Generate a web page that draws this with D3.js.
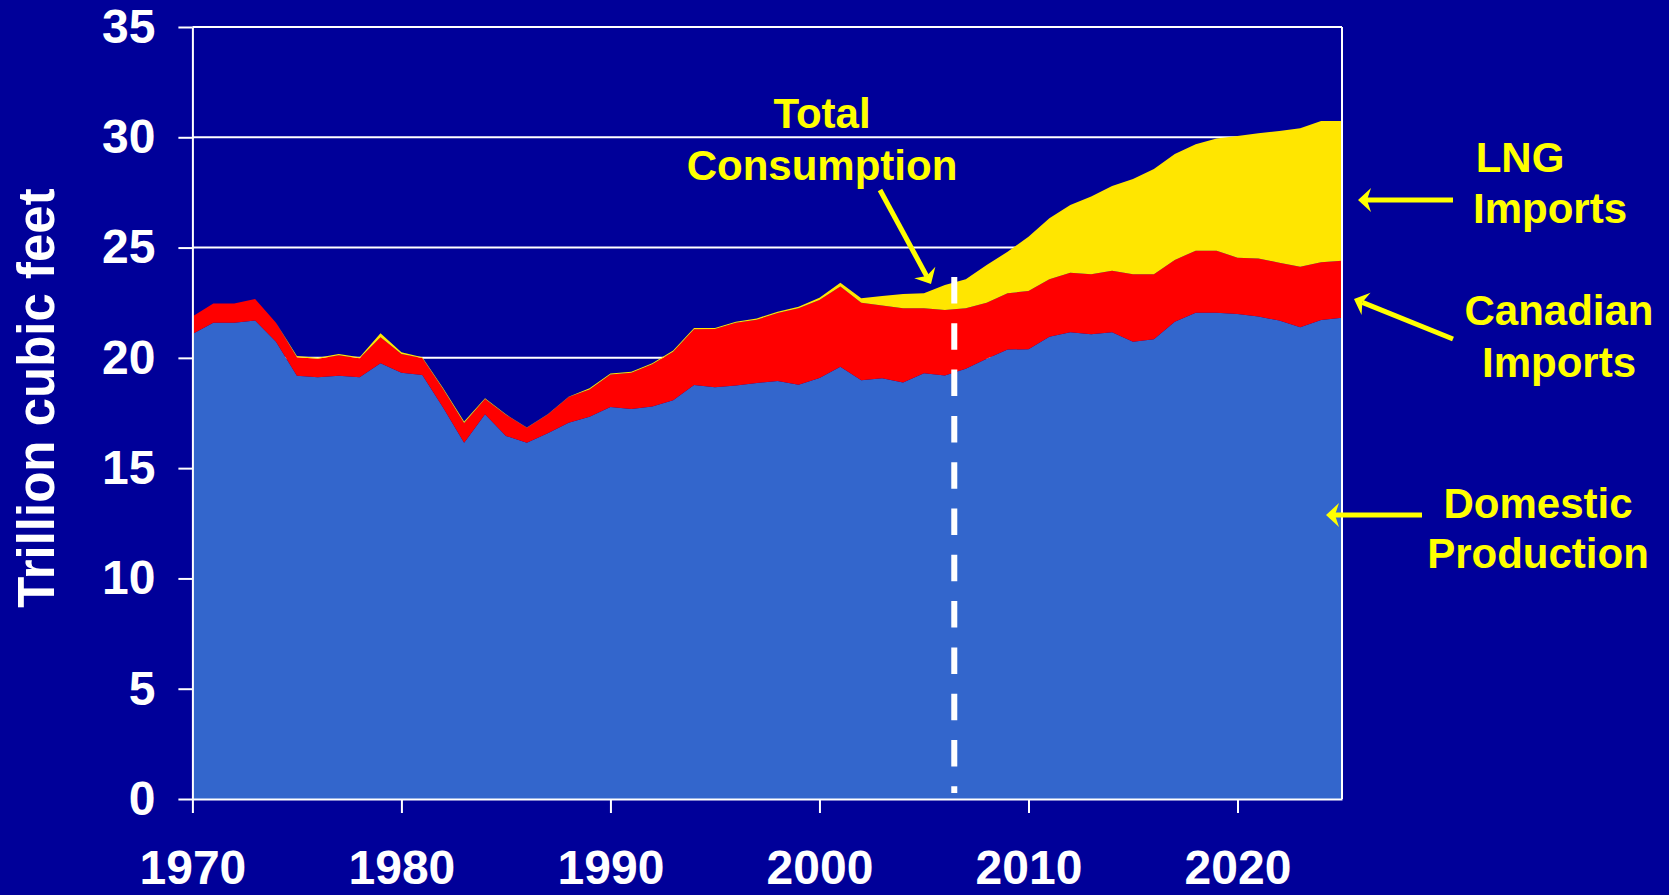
<!DOCTYPE html>
<html>
<head>
<meta charset="utf-8">
<script src="https://cdn.jsdelivr.net/npm/d3@7/dist/d3.min.js"></script>
<style>
    html, body { margin: 0; padding: 0; background: #000099; }
    svg { display: block; }
    text { font-family: "Liberation Sans", Arial, sans-serif; font-weight: bold; }
</style>
</head>
<body>
<div id="chart"></div>
<script>
// == Daten (Trillion cubic feet) ==
const YEARS = [
    1970, 1971, 1972, 1973, 1974, 1975, 1976, 1977, 1978, 1979,
    1980, 1981, 1982, 1983, 1984, 1985, 1986, 1987, 1988, 1989,
    1990, 1991, 1992, 1993, 1994, 1995, 1996, 1997, 1998, 1999,
    2000, 2001, 2002, 2003, 2004, 2005, 2006, 2007, 2008, 2009,
    2010, 2011, 2012, 2013, 2014, 2015, 2016, 2017, 2018, 2019,
    2020, 2021, 2022, 2023, 2024, 2025
];
const DOMESTIC = [
    21.08, 21.59, 21.59, 21.69, 20.73, 19.19, 19.12, 19.19, 19.12, 19.75,
    19.33, 19.22, 17.74, 16.15, 17.44, 16.46, 16.15, 16.58, 17.06, 17.33,
    17.77, 17.68, 17.79, 18.08, 18.77, 18.67, 18.75, 18.86, 18.95, 18.78,
    19.09, 19.60, 18.98, 19.08, 18.88, 19.30, 19.20, 19.51, 19.96, 20.38,
    20.39, 20.96, 21.16, 21.07, 21.16, 20.73, 20.84, 21.64, 22.05, 22.05,
    21.99, 21.87, 21.69, 21.39, 21.72, 21.82
];
const CANADIAN = [
    0.79, 0.88, 0.88, 0.98, 0.86, 0.84, 0.84, 0.93, 0.86, 1.18,
    0.84, 0.77, 0.84, 0.90, 0.70, 0.96, 0.68, 0.85, 1.16, 1.24,
    1.47, 1.64, 1.92, 2.20, 2.53, 2.64, 2.84, 2.87, 3.08, 3.47,
    3.53, 3.63, 3.52, 3.29, 3.37, 2.95, 2.97, 2.74, 2.54, 2.55,
    2.64, 2.60, 2.70, 2.72, 2.79, 3.06, 2.95, 2.80, 2.81, 2.81,
    2.55, 2.64, 2.62, 2.74, 2.61, 2.58
];
const LNG = [
    0.00, 0.00, 0.00, 0.00, 0.00, 0.05, 0.05, 0.05, 0.05, 0.18,
    0.08, 0.04, 0.04, 0.06, 0.03, 0.02, 0.01, 0.01, 0.02, 0.05,
    0.05, 0.05, 0.04, 0.05, 0.05, 0.04, 0.05, 0.06, 0.06, 0.07,
    0.10, 0.18, 0.20, 0.43, 0.65, 0.68, 1.13, 1.31, 1.71, 1.88,
    2.46, 2.77, 3.07, 3.52, 3.84, 4.32, 4.77, 4.80, 4.82, 5.09,
    5.52, 5.67, 5.98, 6.28, 6.41, 6.34
];
const Y_TICKS = [0, 5, 10, 15, 20, 25, 30, 35];
const X_TICKS = [1970, 1980, 1990, 2000, 2010, 2020];
// Beginn der Prognose (gestrichelte Linie)
const PROJECTION_START = 2006.45;
const Y_TITLE = 'Trillion cubic feet';

// == Layout / Farben ==
const WIDTH = 1669;
const HEIGHT = 895;
const PLOT = {left: 192.4, right: 1342, top: 27, bottom: 799};
const BG = '#000099';
const COLORS = {domestic: '#3366CC', canadian: '#FF0000', lng: '#FFE600'};
const LABEL_YELLOW = '#FFFF00';

const svg = d3.select('#chart').append('svg')
    .attr('width', WIDTH)
    .attr('height', HEIGHT)
    .style('background', BG);

const x = d3.scaleLinear().domain([1970, 2025]).range([PLOT.left, PLOT.right]);
const y = d3.scaleLinear().domain([0, 35]).range([PLOT.bottom, PLOT.top]);

// Tabelle fuer d3.stack
const rows = YEARS.map((year, i) => ({
    year: year,
    domestic: DOMESTIC[i],
    canadian: CANADIAN[i],
    lng: LNG[i]
}));
const series = d3.stack().keys(['domestic', 'canadian', 'lng'])(rows);

// Gitterlinien (liegen unter den Flaechen)
svg.append('g')
    .selectAll('line')
    .data(Y_TICKS.filter(v => v > 0))
    .enter()
    .append('line')
    .attr('x1', PLOT.left)
    .attr('x2', PLOT.right)
    .attr('y1', d => y(d))
    .attr('y2', d => y(d))
    .attr('stroke', '#ffffff')
    .attr('stroke-width', 2);

// Flaechen
const area = d3.area()
    .x(d => x(d.data.year))
    .y0(d => y(d[0]))
    .y1(d => y(d[1]));

svg.append('g')
    .selectAll('path')
    .data(series)
    .enter()
    .append('path')
    .attr('d', area)
    .attr('fill', d => COLORS[d.key]);

// rechter Rahmen
svg.append('line')
    .attr('x1', PLOT.right).attr('x2', PLOT.right)
    .attr('y1', PLOT.top).attr('y2', PLOT.bottom)
    .attr('stroke', '#ffffff')
    .attr('stroke-width', 2);

// Y-Achse
const yAxis = svg.append('g')
    .attr('transform', `translate(${PLOT.left},0)`)
    .call(d3.axisLeft(y).tickValues(Y_TICKS).tickSize(14).tickPadding(23).tickSizeOuter(0));
// X-Achse
const xAxis = svg.append('g')
    .attr('transform', `translate(0,${PLOT.bottom})`)
    .call(d3.axisBottom(x).tickValues(X_TICKS).tickFormat(d3.format('d')).tickSize(14).tickSizeOuter(0));

[yAxis, xAxis].forEach(g => {
    g.select('.domain').attr('stroke', '#ffffff').attr('stroke-width', 2);
    g.selectAll('.tick line').attr('stroke', '#ffffff').attr('stroke-width', 2);
    g.selectAll('.tick text')
        .attr('fill', '#ffffff')
        .style('font-size', '48px')
        .style('font-family', '"Liberation Sans", Arial, sans-serif')
        .style('font-weight', 'bold');
});
// Jahreszahlen: Grundlinie festsetzen (knapp ueber dem unteren Rand)
xAxis.selectAll('.tick text').attr('y', 85).attr('dy', null);

// Achsentitel
svg.append('text')
    .attr('transform', 'translate(54,398) rotate(-90)')
    .attr('text-anchor', 'middle')
    .attr('fill', '#ffffff')
    .style('font-size', '51px')
    .text(Y_TITLE);

// gestrichelte Linie: Historie / Prognose
svg.append('line')
    .attr('x1', x(PROJECTION_START)).attr('x2', x(PROJECTION_START))
    .attr('y1', 277).attr('y2', 793)
    .attr('stroke', '#ffffff')
    .attr('stroke-width', 6)
    .attr('stroke-dasharray', '26.5 19.8');

// == Beschriftungen mit Pfeilen ==
const LABELS = [
    {lines: ['Total', 'Consumption'], xs: [822, 822], ys: [128, 180]},
    {lines: ['LNG', 'Imports'], xs: [1520, 1550], ys: [172, 223]},
    {lines: ['Canadian', 'Imports'], xs: [1559, 1559], ys: [325, 377]},
    {lines: ['Domestic', 'Production'], xs: [1538, 1538], ys: [518, 568]}
];
const ARROWS = [
    {from: [880, 190], to: [931, 284]},
    {from: [1453, 200], to: [1358, 200]},
    {from: [1453, 339], to: [1354, 299]},
    {from: [1422, 515], to: [1326, 515]}
];

const labelG = svg.append('g');
for (let label of LABELS) {
    label.lines.forEach((line, i) => {
        labelG.append('text')
            .attr('x', label.xs[i])
            .attr('y', label.ys[i])
            .attr('text-anchor', 'middle')
            .attr('fill', LABEL_YELLOW)
            .style('font-size', '42px')
            .text(line);
    });
}

/**
 * Pfeil mit spitzer Spitze (stealth) zeichnen
 */
function drawArrow(g, from, to) {
    const dx = to[0] - from[0];
    const dy = to[1] - from[1];
    const len = Math.sqrt(dx * dx + dy * dy);
    const ux = dx / len, uy = dy / len;
    const nx = -uy, ny = ux;
    const headLen = 13, halfW = 12, notch = 4;
    // Schaft endet in der Spitze
    g.append('line')
        .attr('x1', from[0]).attr('y1', from[1])
        .attr('x2', to[0] - ux * (headLen - notch)).attr('y2', to[1] - uy * (headLen - notch))
        .attr('stroke', LABEL_YELLOW)
        .attr('stroke-width', 5);
    const bx = to[0] - ux * headLen, by = to[1] - uy * headLen;
    const pts = [
        to,
        [bx + nx * halfW, by + ny * halfW],
        [to[0] - ux * (headLen - notch), to[1] - uy * (headLen - notch)],
        [bx - nx * halfW, by - ny * halfW]
    ];
    g.append('path')
        .attr('d', 'M' + pts.map(p => p.join(',')).join('L') + 'Z')
        .attr('fill', LABEL_YELLOW);
}

const arrowG = svg.append('g');
for (let a of ARROWS) {
    drawArrow(arrowG, a.from, a.to);
}
</script>
</body>
</html>
